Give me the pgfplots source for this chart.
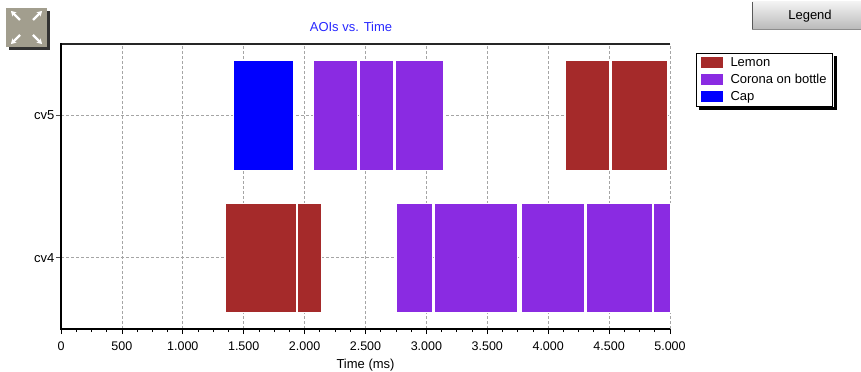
\documentclass[border=0pt]{standalone}
\usepackage{fontspec}
\setmainfont{Liberation Sans}
\usepackage{pgfplots}
\pgfplotsset{compat=1.18}
\usetikzlibrary{arrows.meta,calc}
\definecolor{lemon}{RGB}{165,42,42}
\definecolor{corona}{RGB}{138,43,226}
\definecolor{cap}{RGB}{0,0,255}
\definecolor{gridgray}{RGB}{165,165,165}
\definecolor{icongray}{RGB}{162,158,142}
\definecolor{titleblue}{RGB}{40,40,255}
\begin{document}
\begin{tikzpicture}
\path[use as bounding box] (0bp,0bp) rectangle (861bp,372bp);
% expand icon
\fill[black!80] (9bp,322bp) rectangle (50bp,361bp);
\fill[icongray] (6bp,325bp) rectangle (47bp,364bp);
\begin{scope}[white, line width=2.2bp, -{Stealth[length=5bp,width=6bp]}]
\draw (20bp,352bp) -- (11bp,361bp);
\draw (33bp,352bp) -- (42bp,361bp);
\draw (20bp,337bp) -- (11bp,328bp);
\draw (33bp,337bp) -- (42bp,328bp);
\end{scope}
% legend button
\shade[top color=black!5, bottom color=black!28] (752bp,342bp) rectangle (861bp,370bp);
\draw[black!65, line width=1bp] (752.5bp,342bp) -- (752.5bp,370bp);
\draw[black!45, line width=1bp] (752bp,342.5bp) -- (861bp,342.5bp);
\node[font=\fontsize{13bp}{15bp}\selectfont] at (810bp,356bp) {Legend};
% title
\node[font=\fontsize{13bp}{15bp}\selectfont, text=titleblue] at (351bp,345bp) {AOIs vs. Time};
\begin{axis}[
  at={(61bp,43bp)}, anchor=south west,
  scale only axis, width=609bp, height=285bp,
  xmin=0, xmax=5000, ymin=-0.5, ymax=1.5,
  xtick={0,500,...,5000},
  minor x tick num=3,
  ytick={0,1}, yticklabels={cv4,cv5},
  tick pos=left,
  tick align=outside,
  major tick length=5bp, minor tick length=3bp,
  ytick style={black!70, line width=0.8bp},
  xtick style={black, line width=0.8bp},
  axis line style={draw=none},
  grid=major,
  major grid style={gridgray, dash pattern=on 3bp off 2bp, line width=0.8bp},
  /pgf/number format/.cd, 1000 sep={.}, assume math mode=true,
  /pgfplots/.cd,
  xticklabel style={font=\fontsize{12.5bp}{14bp}\selectfont, yshift=-4.5bp},
  yticklabel style={font=\fontsize{13bp}{15bp}\selectfont, xshift=2bp},
  xlabel={Time (ms)},
  xlabel style={font=\fontsize{13bp}{15bp}\selectfont, yshift=-1bp, xshift=0bp},
  legend style={name=leg, at={(1.0427,0.9695)}, anchor=north west, draw=black, line width=1bp,
    font=\fontsize{13bp}{15bp}\selectfont, inner xsep=4bp, inner ysep=2bp,
    row sep=2.6bp, cells={anchor=west},
    /tikz/every odd column/.append style={column sep=6bp}},
  legend image code/.code={\path[#1, draw=none] (0bp,-5.5bp) rectangle (22bp,5.5bp);},
  clip=false,
]
% cv5 (y=1)
\addplot[fill=cap, draw=white, line width=0.6bp, forget plot] coordinates {(1415,0.615) (1910,0.615) (1910,1.385) (1415,1.385)} -- cycle;
\addplot[fill=corona, draw=white, line width=0.6bp, forget plot] coordinates {(2075,0.615) (2430,0.615) (2430,1.385) (2075,1.385)} -- cycle;
\addplot[fill=corona, draw=white, line width=0.6bp, forget plot] coordinates {(2449,0.615) (2726,0.615) (2726,1.385) (2449,1.385)} -- cycle;
\addplot[fill=corona, draw=white, line width=0.6bp, forget plot] coordinates {(2745,0.615) (3142,0.615) (3142,1.385) (2745,1.385)} -- cycle;
\addplot[fill=lemon, draw=white, line width=0.6bp, forget plot] coordinates {(4140,0.615) (4499,0.615) (4499,1.385) (4140,1.385)} -- cycle;
\addplot[fill=lemon, draw=white, line width=0.6bp, forget plot] coordinates {(4518,0.615) (4975,0.615) (4975,1.385) (4518,1.385)} -- cycle;
% cv4 (y=0)
\addplot[fill=lemon, draw=white, line width=0.6bp, forget plot] coordinates {(1352,-0.385) (1932,-0.385) (1932,0.385) (1352,0.385)} -- cycle;
\addplot[fill=lemon, draw=white, line width=0.6bp, forget plot] coordinates {(1943,-0.385) (2135,-0.385) (2135,0.385) (1943,0.385)} -- cycle;
\addplot[fill=corona, draw=white, line width=0.6bp, forget plot] coordinates {(2753,-0.385) (3052,-0.385) (3052,0.385) (2753,0.385)} -- cycle;
\addplot[fill=corona, draw=white, line width=0.6bp, forget plot] coordinates {(3062,-0.385) (3744,-0.385) (3744,0.385) (3062,0.385)} -- cycle;
\addplot[fill=corona, draw=white, line width=0.6bp, forget plot] coordinates {(3777,-0.385) (4294,-0.385) (4294,0.385) (3777,0.385)} -- cycle;
\addplot[fill=corona, draw=white, line width=0.6bp, forget plot] coordinates {(4316,-0.385) (4852,-0.385) (4852,0.385) (4316,0.385)} -- cycle;
\addplot[fill=corona, draw=white, line width=0.6bp, forget plot] coordinates {(4866,-0.385) (5000,-0.385) (5000,0.385) (4866,0.385)} -- cycle;
\addlegendimage{fill=lemon}
\addlegendentry{Lemon}
\addlegendimage{fill=corona}
\addlegendentry{Corona on bottle}
\addlegendimage{fill=cap}
\addlegendentry{Cap}
\draw[black!85, line width=1.6bp] (rel axis cs:0,1) -- (rel axis cs:1,1);
\draw[black, line width=2bp] (rel axis cs:0,1.003) -- (rel axis cs:0,0) -- (rel axis cs:1,0);
\end{axis}
% legend shadow (right and bottom strips)
\fill[black] ($(leg.north east)+(0.5bp,-3bp)$) rectangle ($(leg.south east)+(3.5bp,-3.5bp)$);
\fill[black] ($(leg.south west)+(3bp,-0.5bp)$) rectangle ($(leg.south east)+(3.5bp,-3.5bp)$);
\end{tikzpicture}
\end{document}
